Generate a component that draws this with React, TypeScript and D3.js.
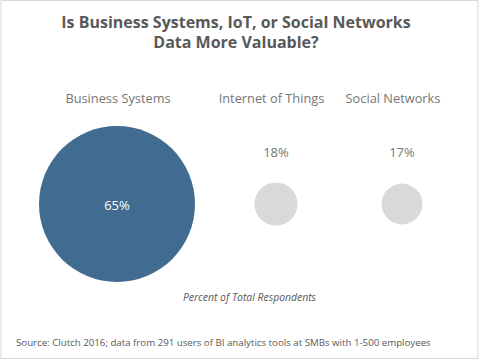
import React from "react";
import * as d3 from "d3";

const categories = ["Business Systems", "Internet of Things", "Social Networks"];
const values = [65, 18, 17];
const titleLines = ["Is Business Systems, IoT, or Social Networks", "Data More Valuable?"];
const axisNote = "Percent of Total Respondents";
const source = "Source: Clutch 2016; data from 291 users of BI analytics tools at SMBs with 1-500 employees";

const W = 480;
const H = 360;
const FONT = "'Open Sans', 'Noto Sans', sans-serif";

export default function App() {
  const idx = categories.map((_, i) => i);
  const x = d3.scaleLinear().domain([0, 1, 2]).range([117, 276, 402]);
  const labelX = d3.scaleLinear().domain([0, 1, 2]).range([118, 271.5, 393]);
  const r = d3.scaleLinear().domain([0, 65]).range([0, 78]);
  const cy = 204;
  const color = (i: number) => (i === 0 ? "#416b90" : "#d9d9d9");

  return (
    <svg
      width={W}
      height={H}
      style={{ position: "absolute", left: 0, top: 0, background: "#fff" }}
      fontFamily={FONT}
    >
      <rect x={1} y={0.5} width={477} height={358} fill="#fff" stroke="#d9d9d9" />
      {titleLines.map((t, i) => (
        <text
          key={t}
          x={236}
          y={28 + i * 20}
          textAnchor="middle"
          fontSize={16}
          fontWeight="bold"
          fill="#595959"
        >
          {t}
        </text>
      ))}
      {idx.map((i) => (
        <g key={categories[i]}>
          <text x={labelX(i)} y={103} textAnchor="middle" fontSize={12.8} fill="#767676">
            {categories[i]}
          </text>
          <circle cx={x(i)} cy={cy} r={r(values[i])} fill={color(i)} />
          {i === 0 ? (
            <text x={x(i)} y={cy + 5.5} textAnchor="middle" fontSize={13} fill="#fff">
              {values[i]}%
            </text>
          ) : (
            <text x={x(i)} y={156.5} textAnchor="middle" fontSize={13} fill="#767676">
              {values[i]}%
            </text>
          )}
        </g>
      ))}
      <text x={249.5} y={301} textAnchor="middle" fontSize={10.4} fontStyle="italic" fill="#595959">
        {axisNote}
      </text>
      <text x={16} y={346} fontSize={9.7} fill="#595959">
        {source}
      </text>
    </svg>
  );
}
